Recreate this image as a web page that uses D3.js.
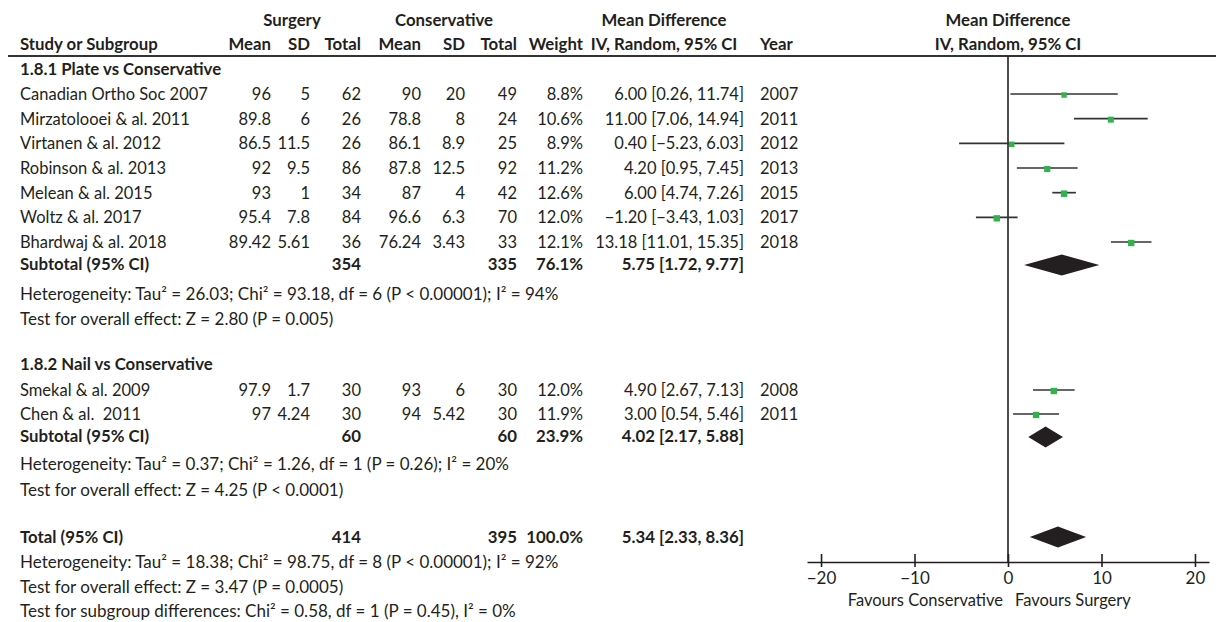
<!DOCTYPE html>
<html><head><meta charset="utf-8">
<script src="https://cdn.jsdelivr.net/npm/d3@7"></script>
<style>
html,body{margin:0;padding:0;background:#fff;}
svg{display:block;}
text{font-family:Lato,"Open Sans",sans-serif;fill:#231f20;white-space:pre;}
</style></head>
<body>
<svg id="chart" width="1216" height="622"></svg>
<script>
// ---------- data ----------
const groupTitles = ["1.8.1 Plate vs Conservative", "1.8.2 Nail vs Conservative"];
const studyNames = ["Canadian Ortho Soc 2007","Mirzatolooei & al. 2011","Virtanen & al. 2012","Robinson & al. 2013","Melean & al. 2015","Woltz & al. 2017","Bhardwaj & al. 2018","Smekal & al. 2009","Chen & al.  2011"];
const studyGroup = [0,0,0,0,0,0,0,1,1];
const surgMean = [96, 89.8, 86.5, 92, 93, 95.4, 89.42, 97.9, 97];
const surgSD = [5, 6, 11.5, 9.5, 1, 7.8, 5.61, 1.7, 4.24];
const surgN = [62, 26, 26, 86, 34, 84, 36, 30, 30];
const consMean = [90, 78.8, 86.1, 87.8, 87, 96.6, 76.24, 93, 94];
const consSD = [20, 8, 8.9, 12.5, 4, 6.3, 3.43, 6, 5.42];
const consN = [49, 24, 25, 92, 42, 70, 33, 30, 30];
const weights = [8.8, 10.6, 8.9, 11.2, 12.6, 12.0, 12.1, 12.0, 11.9];
const meanDiff = [6.00, 11.00, 0.40, 4.20, 6.00, -1.20, 13.18, 4.90, 3.00];
const ciLow = [0.26, 7.06, -5.23, 0.95, 4.74, -3.43, 11.01, 2.67, 0.54];
const ciHigh = [11.74, 14.94, 6.03, 7.45, 7.26, 1.03, 15.35, 7.13, 5.46];
const years = [2007, 2011, 2012, 2013, 2015, 2017, 2018, 2008, 2011];

const subSurgN = [354, 60];
const subConsN = [335, 60];
const subWeight = [76.1, 23.9];
const subMD = [5.75, 4.02];
const subLow = [1.72, 2.17];
const subHigh = [9.77, 5.88];

const totalSurgN = 414, totalConsN = 395, totalWeight = 100.0;
const totalMD = 5.34, totalLow = 2.33, totalHigh = 8.36;

const heterogeneity = [
  "Heterogeneity: Tau² = 26.03; Chi² = 93.18, df = 6 (P < 0.00001); I² = 94%",
  "Heterogeneity: Tau² = 0.37; Chi² = 1.26, df = 1 (P = 0.26); I² = 20%",
  "Heterogeneity: Tau² = 18.38; Chi² = 98.75, df = 8 (P < 0.00001); I² = 92%"
];
const overallEffect = [
  "Test for overall effect: Z = 2.80 (P = 0.005)",
  "Test for overall effect: Z = 4.25 (P < 0.0001)",
  "Test for overall effect: Z = 3.47 (P = 0.0005)"
];
const subgroupDiff = "Test for subgroup differences: Chi² = 0.58, df = 1 (P = 0.45), I² = 0%";
const axisTicks = [-20, -10, 0, 10, 20];
const favoursLeft = "Favours Conservative", favoursRight = "Favours Surgery";

// ---------- layout ----------
const svg = d3.select("#chart");
const FS = 16.5, FSB = 16.8, FSN = 17;
const ink = "#231f20";
const fmtNum = v => (v < 0 ? "\u2212" : "") + Math.abs(v).toFixed(2);
const fmtCI = (m, l, h) => `${fmtNum(m)} [${fmtNum(l)}, ${fmtNum(h)}]`;
const fmtW = w => w.toFixed(1) + "%";

const col = {name: 20, sMean: 271, sSD: 310, sN: 361, cMean: 421, cSD: 465, cN: 517, w: 583, ci: 744, year: 760};

// row y positions via scales
const y1 = d3.scaleLinear().domain([0, 6]).range([94, 242]);
const y2 = d3.scaleLinear().domain([0, 1]).range([390, 414]);
const studyY = studyGroup.map((g, i) => g === 0 ? y1(i) : y2(i - 7));
const subY = [265, 437];
const totalY = 537;

const x = d3.scaleLinear().domain([-21.5, 21.5]).range([807, 1209]);
const axisY = 562, topLineY = 56;

function txt(xp, yp, s, anchor, bold, size) {
  return svg.append("text").attr("x", xp).attr("y", yp).attr("dy", "0.36em")
    .attr("text-anchor", anchor || "start")
    .style("font-size", (size || (bold ? FSB : FS)) + "px")
    .style("font-weight", bold ? 700 : 400)
    .text(s);
}

// headers
txt(292, 20, "Surgery", "middle", true);
txt(444, 20, "Conservative", "middle", true);
txt(664, 20, "Mean Difference", "middle", true);
txt(x(0), 20, "Mean Difference", "middle", true);
txt(col.name, 44, "Study or Subgroup", "start", true);
txt(col.sMean, 44, "Mean", "end", true);
txt(col.sSD, 44, "SD", "end", true);
txt(col.sN, 44, "Total", "end", true);
txt(col.cMean, 44, "Mean", "end", true);
txt(col.cSD, 44, "SD", "end", true);
txt(col.cN, 44, "Total", "end", true);
txt(col.w, 44, "Weight", "end", true);
txt(664, 44, "IV, Random, 95% CI", "middle", true);
txt(col.year, 44, "Year", "start", true);
txt(x(0), 44, "IV, Random, 95% CI", "middle", true);

svg.append("line").attr("x1", 8).attr("x2", 1216).attr("y1", topLineY).attr("y2", topLineY)
  .attr("stroke", "#333").attr("stroke-width", 2);

// group titles
txt(col.name, 69, groupTitles[0], "start", true);
txt(col.name, 364, groupTitles[1], "start", true);

// study rows
studyNames.forEach((n, i) => {
  const yy = studyY[i];
  txt(col.name, yy, n);
  txt(col.sMean, yy, String(surgMean[i]), "end");
  txt(col.sSD, yy, String(surgSD[i]), "end");
  txt(col.sN, yy, String(surgN[i]), "end");
  txt(col.cMean, yy, String(consMean[i]), "end");
  txt(col.cSD, yy, String(consSD[i]), "end");
  txt(col.cN, yy, String(consN[i]), "end");
  txt(col.w, yy, fmtW(weights[i]), "end");
  txt(col.ci, yy, fmtCI(meanDiff[i], ciLow[i], ciHigh[i]), "end");
  txt(col.year, yy, String(years[i]), "start");
});

// subtotals
subY.forEach((yy, g) => {
  txt(col.name, yy - 1, "Subtotal (95% CI)", "start", true);
  txt(col.sN, yy - 1, String(subSurgN[g]), "end", true);
  txt(col.cN, yy - 1, String(subConsN[g]), "end", true);
  txt(col.w, yy - 1, fmtW(subWeight[g]), "end", true);
  txt(col.ci, yy - 1, fmtCI(subMD[g], subLow[g], subHigh[g]), "end", true);
});
txt(col.name, 294, heterogeneity[0], "start", false, FSN);
txt(col.name, 319, overallEffect[0], "start", false, FSN);
txt(col.name, 464, heterogeneity[1], "start", false, FSN);
txt(col.name, 490, overallEffect[1], "start", false, FSN);

// total
txt(col.name, totalY, "Total (95% CI)", "start", true);
txt(col.sN, totalY, String(totalSurgN), "end", true);
txt(col.cN, totalY, String(totalConsN), "end", true);
txt(col.w, totalY, fmtW(totalWeight), "end", true);
txt(col.ci, totalY, fmtCI(totalMD, totalLow, totalHigh), "end", true);
txt(col.name, 562, heterogeneity[2], "start", false, FSN);
txt(col.name, 587, overallEffect[2], "start", false, FSN);
txt(col.name, 611, subgroupDiff, "start", false, FSN);

// ---------- forest plot ----------
const plot = svg.append("g");
plot.append("line").attr("x1", x(0)).attr("x2", x(0)).attr("y1", topLineY).attr("y2", axisY)
  .attr("stroke", ink).attr("stroke-width", 1.6);

const sq = d3.scaleSqrt().domain([0, 12.6]).range([0, 6.5]);
studyNames.forEach((n, i) => {
  const yy = studyY[i];
  plot.append("line").attr("x1", x(ciLow[i])).attr("x2", x(ciHigh[i]))
    .attr("y1", yy).attr("y2", yy).attr("stroke", "#333").attr("stroke-width", 1.7);
  const s = sq(weights[i]);
  plot.append("rect").attr("x", x(meanDiff[i]) - s / 2).attr("y", yy + 1 - s / 2)
    .attr("width", s).attr("height", s).attr("fill", "#2fb34a");
});

function diamond(m, l, h, yy) {
  const hh = 10.5;
  plot.append("path")
    .attr("d", `M${x(l)},${yy}L${x(m)},${yy - hh}L${x(h)},${yy}L${x(m)},${yy + hh}Z`)
    .attr("fill", ink);
}
subY.forEach((yy, g) => diamond(subMD[g], subLow[g], subHigh[g], yy));
diamond(totalMD, totalLow, totalHigh, totalY);

// axis
const axis = d3.axisBottom(x).tickValues(axisTicks).tickSizeOuter(0).tickSize(0)
  .tickFormat(d => (d < 0 ? "\u2212" : "") + Math.abs(d));
const ag = svg.append("g").attr("transform", `translate(0,${axisY})`).call(axis);
ag.select(".domain").attr("stroke", ink).attr("stroke-width", 1.6);
ag.selectAll(".tick line").attr("y1", -8).attr("y2", 5).attr("stroke", ink).attr("stroke-width", 1.6);
ag.selectAll(".tick text").attr("y", 16).attr("dy", "0.36em")
  .style("font-size", "17px").style("font-family", "Lato, sans-serif").attr("fill", ink);

txt(x(0) - 5, 600, favoursLeft, "end");
txt(x(0) + 7, 600, favoursRight, "start");
</script>
</body></html>
